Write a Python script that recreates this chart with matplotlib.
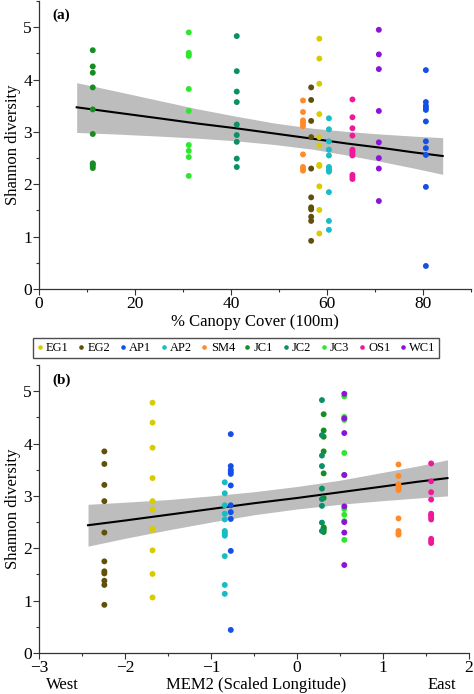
import numpy as np
import matplotlib
matplotlib.use("Agg")
import matplotlib.pyplot as plt
from matplotlib.ticker import MultipleLocator
from matplotlib.lines import Line2D

plt.rcParams['font.family'] = ['Liberation Serif', 'DejaVu Serif']

# site names, colours and positions on both x axes
sites = ['EG1', 'EG2', 'AP1', 'AP2', 'SM4', 'JC1', 'JC2', 'JC3', 'OS1', 'WC1']
colors = ['#d8cc00', '#5f500a', '#1450e6', '#18bcc4', '#ff8a2a',
          '#168c22', '#0b8f66', '#2ee62e', '#f0189a', '#8c14d8']
canopy = [58.4, 56.7, 80.6, 60.4, 55.0, 11.2, 41.2, 31.2, 65.3, 70.8]
mem2 = [-1.68, -2.24, -0.77, -0.84, 1.18, 0.31, 0.29, 0.55, 1.56, 0.55]

# Shannon diversity per site
shannon = {
    'EG1': [4.78, 4.40, 3.92, 3.34, 2.90, 2.74, 2.37, 2.35, 1.96, 1.51, 1.06],
    'EG2': [3.85, 3.61, 3.21, 2.90, 2.30, 1.75, 1.56, 1.52, 1.38, 1.30, 0.92],
    'AP1': [4.18, 3.57, 3.50, 3.46, 3.42, 3.20, 2.82, 2.69, 2.56, 1.95, 0.44],
    'AP2': [3.26, 3.05, 2.82, 2.66, 2.55, 2.33, 2.30, 2.27, 2.24, 1.85, 1.30, 1.13],
    'SM4': [3.60, 3.38, 3.22, 3.18, 3.14, 3.11, 2.57, 2.33, 2.29, 2.26],
    'JC1': [4.56, 4.25, 4.13, 3.85, 3.43, 2.96, 2.40, 2.38, 2.35, 2.31],
    'JC2': [4.83, 4.16, 3.77, 3.57, 3.14, 2.94, 2.81, 2.49, 2.33],
    'JC3': [4.90, 4.51, 4.48, 4.45, 3.82, 3.40, 2.75, 2.64, 2.52, 2.16],
    'OS1': [3.62, 3.28, 3.07, 2.93, 2.66, 2.63, 2.59, 2.55, 2.18, 2.14, 2.10],
    'WC1': [4.95, 4.48, 4.20, 3.40, 2.80, 2.50, 2.30, 1.68],
}

# fitted line and confidence band
fitA_x = [7.85, 16, 25, 33, 41, 49, 57, 64, 71, 78, 84.1]
fitA_y = [3.47, 3.37, 3.26, 3.16, 3.07, 2.97, 2.87, 2.78, 2.70, 2.61, 2.54]
fitA_hi = [3.94, 3.78, 3.60, 3.44, 3.30, 3.17, 3.07, 3.01, 2.96, 2.92, 2.89]
fitA_lo = [2.99, 2.96, 2.92, 2.88, 2.83, 2.76, 2.67, 2.56, 2.44, 2.31, 2.19]

fitB_x = [-2.43, -2.0, -1.5, -1.0, -0.5, 0.0, 0.5, 1.0, 1.4, 1.75]
fitB_y = [2.44, 2.53, 2.64, 2.75, 2.86, 2.96, 3.07, 3.18, 3.27, 3.34]
fitB_hi = [2.84, 2.88, 2.93, 3.00, 3.08, 3.18, 3.30, 3.45, 3.57, 3.69]
fitB_lo = [2.04, 2.19, 2.35, 2.50, 2.64, 2.75, 2.84, 2.91, 2.96, 3.00]


def style_axes(ax):
    for s in ['top', 'right']:
        ax.spines[s].set_visible(False)
    for s in ['left', 'bottom']:
        ax.spines[s].set_color('#333333')
        ax.spines[s].set_linewidth(0.9)
    ax.tick_params(which='major', direction='out', length=4, width=0.8,
                   color='#333333', labelsize=12.5, pad=1)
    ax.tick_params(which='minor', direction='out', length=2.5, width=0.8,
                   color='#333333')
    ax.set_ylim(0, 5.5)
    ax.yaxis.set_major_locator(MultipleLocator(1))
    ax.yaxis.set_minor_locator(MultipleLocator(0.5))
    ax.set_ylabel('Shannon diversity', fontsize=12, labelpad=2)


fig = plt.figure(figsize=(4.74, 6.94), dpi=100)
axA = fig.add_axes([39/474, 1-289/694, 432/474, 288/694])
axB = fig.add_axes([39/474, 1-653/694, 430/474, 288/694])

# panel (a)
axA.fill_between(fitA_x, fitA_lo, fitA_hi, color='#bdbdbd', lw=0, zorder=1)
axA.plot(fitA_x, fitA_y, color='black', lw=1.5, zorder=2)
for name, c, xv in zip(sites, colors, canopy):
    yv = shannon[name]
    axA.scatter([xv]*len(yv), yv, s=18, color=c, edgecolors='none', zorder=3)
axA.set_xlim(0, 90)
axA.xaxis.set_major_locator(MultipleLocator(20))
axA.xaxis.set_minor_locator(MultipleLocator(10))
style_axes(axA)
axA.set_xticks([0, 20, 40, 60, 80])
fig.text(255/474, 1-322/694, '% Canopy Cover (100m)', fontsize=12,
         ha='center', va='center')
axA.text(0.03, 0.975, '(a)', transform=axA.transAxes, fontsize=11,
         fontweight='bold', va='top', ha='left')

# panel (b)
axB.fill_between(fitB_x, fitB_lo, fitB_hi, color='#bdbdbd', lw=0, zorder=1)
axB.plot(fitB_x, fitB_y, color='black', lw=1.5, zorder=2)
for name, c, xv in zip(sites, colors, mem2):
    yv = shannon[name]
    axB.scatter([xv]*len(yv), yv, s=18, color=c, edgecolors='none', zorder=3)
axB.set_xlim(-3, 2)
axB.xaxis.set_major_locator(MultipleLocator(1))
axB.xaxis.set_minor_locator(MultipleLocator(0.5))
style_axes(axB)
fig.text(256/474, 1-685/694, 'MEM2 (Scaled Longitude)', fontsize=12,
         ha='center', va='center')
fig.text(62/474, 1-685/694, 'West', fontsize=12, ha='center', va='center')
fig.text(442/474, 1-685/694, 'East', fontsize=12, ha='center', va='center')
axB.text(0.03, 0.97, '(b)', transform=axB.transAxes, fontsize=11,
         fontweight='bold', va='top', ha='left')

# legend
handles = [Line2D([], [], ls='none', marker='o', markersize=3.3, color=c,
                  markeredgewidth=0) for c in colors]
leg = fig.legend(handles, sites, loc='center', ncol=10,
                 bbox_to_anchor=(236/474, 1-348/694), fontsize=9,
                 frameon=True, fancybox=False, handlelength=0.5,
                 handletextpad=0.25, columnspacing=0.75, borderpad=0.3,
                 borderaxespad=0)
leg.get_frame().set_edgecolor('#222222')
leg.get_frame().set_linewidth(1.0)

fig.savefig('out.png', dpi=100)
